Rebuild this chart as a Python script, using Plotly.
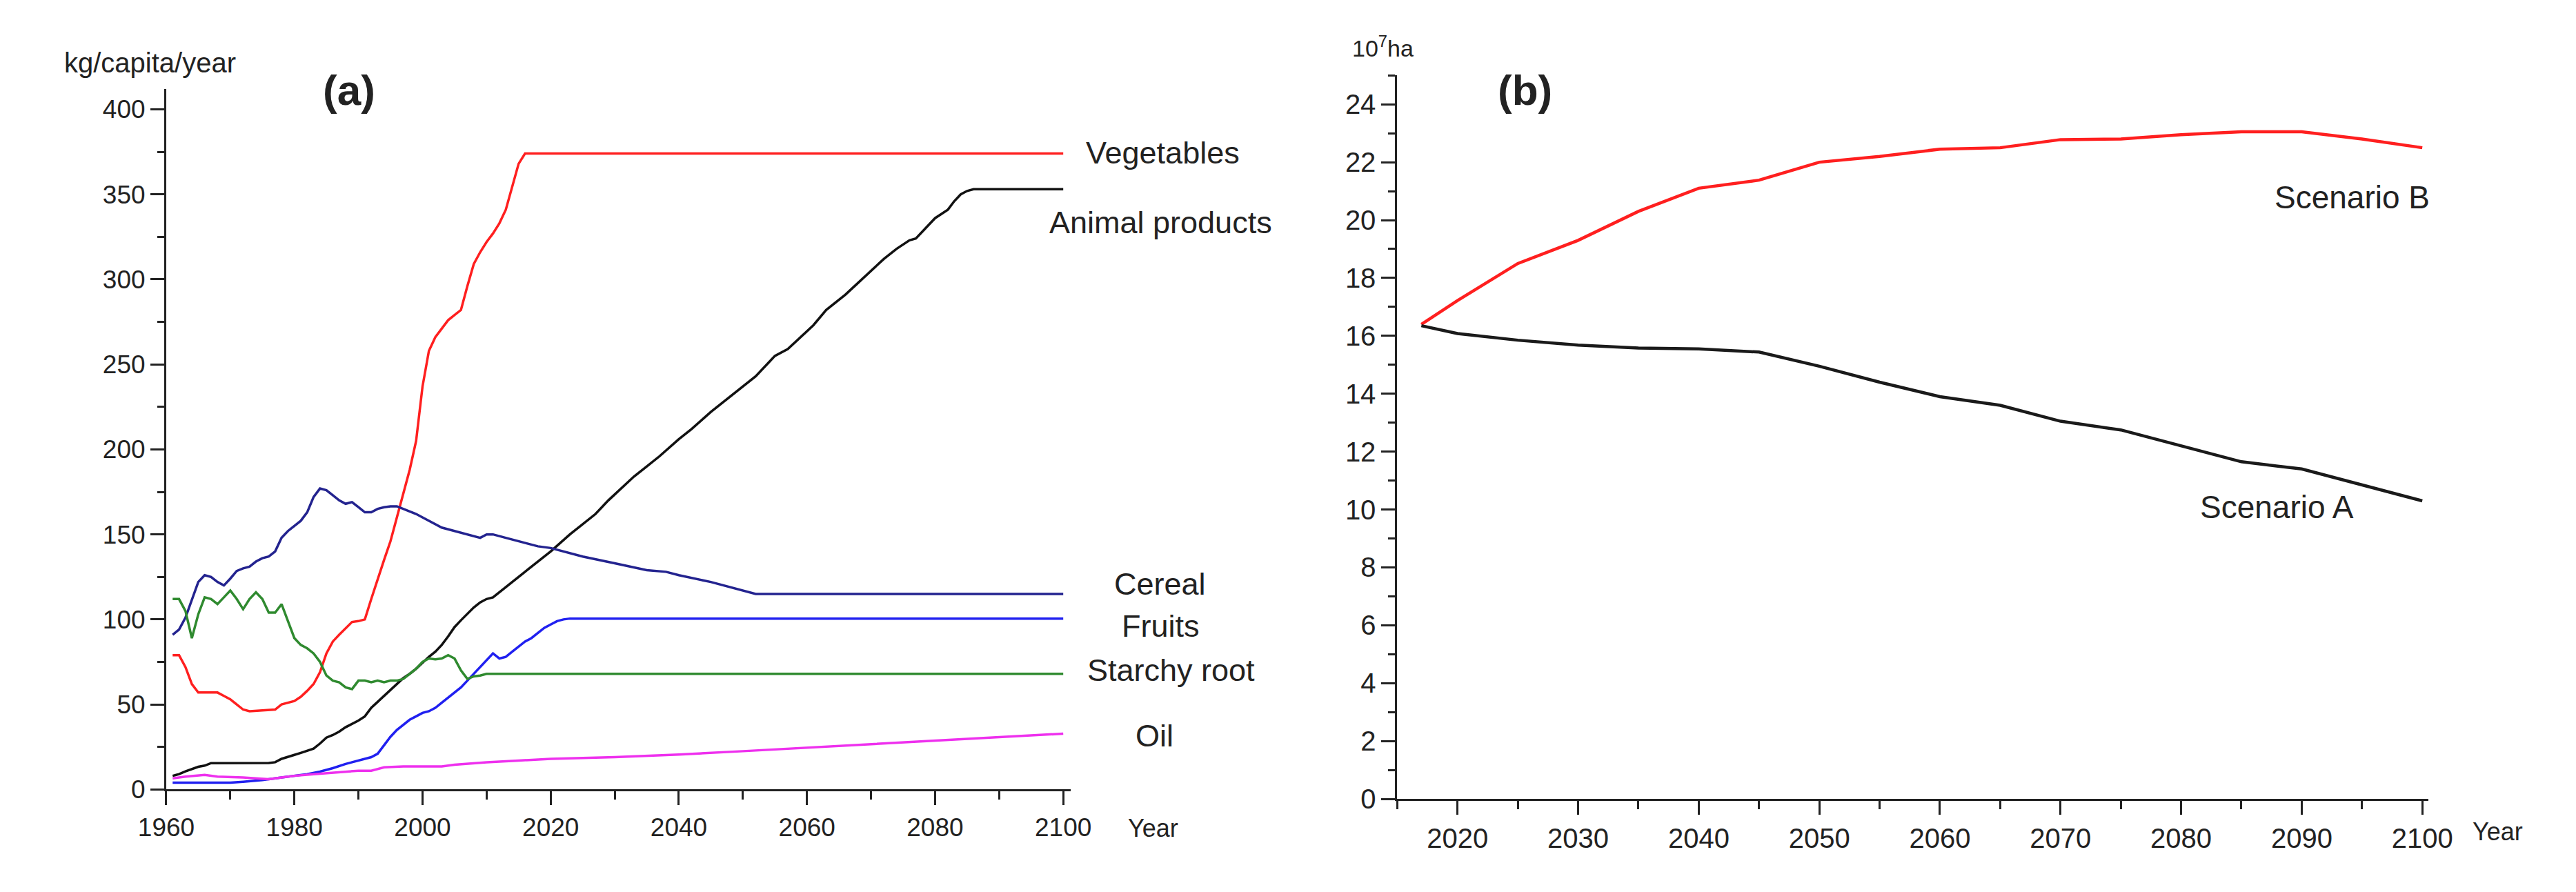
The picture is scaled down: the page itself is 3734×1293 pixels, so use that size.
import plotly.graph_objects as go

W, H = 3734, 1293

# ---------------- Panel (a) data: kg/capita/year ----------------
veg_years = [1961, 1962, 1963, 1964, 1965, 1966, 1968, 1969, 1970, 1971, 1972, 1973, 1975, 1977,
             1978, 1980, 1981, 1982, 1983, 1984, 1985, 1986, 1987, 1988, 1989, 1990, 1991, 1992,
             1993, 1994, 1995, 1996, 1997, 1998, 1999, 2000, 2001, 2002, 2003, 2004, 2005, 2006,
             2007, 2008, 2009, 2010, 2011, 2012, 2013, 2014, 2015, 2016, 2100]
veg_vals = [79, 79, 72, 62, 57, 57, 57, 55, 53, 50, 47, 46, 46.5, 47,
            50, 52, 54.5, 58, 62, 69, 80, 87, 91, 95, 98.5, 99, 100, 112,
            124, 135, 146, 160, 173, 188, 205, 237, 258, 266, 271, 276, 279, 282,
            296, 309, 316, 322, 327, 333, 341, 355, 368, 374, 374]

ani_years = [1961, 1962, 1963, 1964, 1965, 1966, 1967, 1976, 1977, 1978, 1979, 1980, 1981, 1982,
             1983, 1984, 1985, 1986, 1987, 1988, 1989, 1990, 1991, 1992, 1993, 1994, 1995, 1996,
             1997, 1998, 1999, 2000, 2001, 2002, 2003, 2004, 2005, 2006, 2007, 2008, 2009, 2010,
             2011, 2014, 2017, 2020, 2023, 2025, 2027, 2029, 2031, 2033, 2035, 2037, 2040, 2042,
             2045, 2048, 2050, 2052, 2054, 2055, 2057, 2059, 2061, 2063, 2066, 2068, 2070, 2072,
             2074, 2076, 2077, 2078, 2080, 2082, 2083, 2084, 2085, 2086, 2100]
ani_vals = [8, 9, 10.6, 12, 13.3, 14, 15.5, 15.6, 16, 18, 19, 20.3, 21.5, 22.6,
            24, 27, 30.5, 32, 34, 36.6, 38.5, 40.5, 43, 48, 51.5, 55, 58.5, 62,
            65.5, 68, 71, 74.5, 78, 81, 85, 90, 95.5, 99.5, 103.5, 107, 110, 112,
            113, 122, 131, 140, 150, 156, 162, 170, 177, 184, 190, 196, 206, 212,
            222, 231, 237, 243, 251, 255, 259, 266, 273, 282, 291, 298, 305, 312,
            318, 323, 324, 328, 336, 341, 346, 350, 352, 353, 353]

cer_years = [1961, 1962, 1963, 1964, 1965, 1966, 1967, 1968, 1969, 1970, 1971, 1972, 1973, 1974,
             1975, 1976, 1977, 1978, 1979, 1980, 1981, 1982, 1983, 1984, 1985, 1986, 1987, 1988,
             1989, 1990, 1991, 1992, 1993, 1994, 1995, 1996, 1997, 1998, 1999, 2000, 2001, 2002,
             2003, 2004, 2005, 2006, 2007, 2008, 2009, 2010, 2011, 2013, 2015, 2018, 2020, 2023,
             2025, 2030, 2035, 2038, 2040, 2045, 2050, 2052, 2100]
cer_vals = [91, 94, 101, 112, 122, 126, 125, 122, 120, 124, 128.5, 130, 131, 134,
            136, 137, 140, 148, 152, 155, 158, 163, 172, 177, 176, 173, 170, 168,
            169, 166, 163, 163, 165, 166, 166.5, 166.5, 165, 163.5, 162, 160, 158, 156,
            154, 153, 152, 151, 150, 149, 148, 150, 150, 148, 146, 143, 142, 139,
            137, 133, 129, 128, 126, 122, 117, 115, 115]

fru_years = [1961, 1965, 1970, 1972, 1975, 1978, 1980, 1982, 1984, 1986, 1988, 1990, 1992, 1993,
             1994, 1995, 1996, 1997, 1998, 1999, 2000, 2001, 2002, 2003, 2004, 2005, 2006, 2007,
             2008, 2009, 2010, 2011, 2012, 2013, 2014, 2015, 2016, 2017, 2018, 2019, 2020, 2021,
             2022, 2023, 2100]
fru_vals = [4, 4, 4, 4.5, 5.5, 7, 8, 9, 10.5, 12.5, 15, 17, 19, 21,
            26, 31, 35, 38, 41, 43, 45, 46, 48, 51, 54, 57, 60, 64,
            68, 72, 76, 80, 77, 78, 81, 84, 87, 89, 92, 95, 97, 99,
            100, 100.5, 100.5]

sta_years = [1961, 1962, 1963, 1964, 1965, 1966, 1967, 1968, 1969, 1970, 1971, 1972, 1973, 1974,
             1975, 1976, 1977, 1978, 1979, 1980, 1981, 1982, 1983, 1984, 1985, 1986, 1987, 1988,
             1989, 1990, 1991, 1992, 1993, 1994, 1995, 1996, 1997, 1998, 1999, 2000, 2001, 2002,
             2003, 2004, 2005, 2006, 2007, 2008, 2009, 2010, 2100]
sta_vals = [112, 112, 105, 89, 103, 113, 112, 109, 113, 117, 112, 106, 112, 116,
            112, 104, 104, 109, 99, 89, 85, 83, 80, 75, 67, 64, 63, 60,
            59, 64, 64, 63, 64, 63, 64, 64, 65, 68, 71, 75, 77, 76.5, 77, 79, 77, 70, 65, 66.5,
            67, 68, 68]

oil_years = [1961, 1963, 1966, 1968, 1972, 1976, 1978, 1980, 1983, 1986, 1990, 1992, 1994, 1997,
             2000, 2003, 2005, 2010, 2015, 2020, 2030, 2040, 2050, 2060, 2070, 2080, 2090, 2100]
oil_vals = [6.5, 7.5, 8.5, 7.5, 7, 6, 7, 8, 9, 10, 11, 11, 13, 13.5,
            13.5, 13.5, 14.5, 16, 17, 18, 19, 20.5, 22.5, 24.5, 26.5, 28.7, 30.8, 32.8]

# ---------------- Panel (b) data: 10^7 ha ----------------
scen_years = [2017, 2020, 2025, 2030, 2035, 2040, 2045, 2050, 2055, 2060, 2065, 2070, 2075,
              2080, 2085, 2090, 2095, 2100]
scen_b = [16.4, 17.22, 18.5, 19.3, 20.3, 21.1, 21.38, 22.0, 22.2, 22.45, 22.5, 22.78, 22.8,
          22.95, 23.05, 23.05, 22.8, 22.5]
scen_a = [16.35, 16.08, 15.85, 15.68, 15.58, 15.55, 15.44, 14.95, 14.4, 13.9, 13.6, 13.05, 12.75,
          12.2, 11.65, 11.4, 10.85, 10.3]

# ---------------- helpers (layout only) ----------------
def px(x):
    return x / W

def py(y):
    return 1 - y / H

FONT = "Liberation Sans, Arial, sans-serif"
AX = "#222222"

fig = go.Figure()

left_series = [
    (veg_years, veg_vals, "#ff1f1f", "Vegetables"),
    (ani_years, ani_vals, "#111111", "Animal products"),
    (cer_years, cer_vals, "#23238f", "Cereal"),
    (fru_years, fru_vals, "#2020f0", "Fruits"),
    (sta_years, sta_vals, "#2f8a2f", "Starchy root"),
    (oil_years, oil_vals, "#ee30ee", "Oil"),
]
for xs, ys, col, name in left_series:
    fig.add_trace(go.Scatter(x=xs, y=ys, mode="lines", name=name,
                             line=dict(color=col, width=3.5), xaxis="x", yaxis="y"))

fig.add_trace(go.Scatter(x=scen_years, y=scen_b, mode="lines", name="Scenario B",
                         line=dict(color="#ff1f1f", width=4.5), xaxis="x2", yaxis="y2"))
fig.add_trace(go.Scatter(x=scen_years, y=scen_a, mode="lines", name="Scenario A",
                         line=dict(color="#1a1a1a", width=4.5), xaxis="x2", yaxis="y2"))

axis_common = dict(showline=True, linewidth=3, linecolor=AX, showgrid=False, zeroline=False,
                   ticks="outside", ticklen=20, tickwidth=3, tickcolor=AX,
                   tickfont=dict(family=FONT, size=37, color=AX))

fig.update_layout(
    width=W, height=H, margin=dict(l=0, r=0, t=0, b=0),
    paper_bgcolor="white", plot_bgcolor="white", showlegend=False,
    xaxis=dict(axis_common, domain=[px(196), px(1535)], range=[1960, 2101.2],
               tick0=1960, dtick=20, anchor="y",
               minor=dict(dtick=10, ticklen=12, tickwidth=3, tickcolor=AX, ticks="outside")),
    yaxis=dict(axis_common, domain=[py(1156), py(123)], range=[0, 412],
               tick0=0, dtick=50, anchor="x",
               minor=dict(dtick=25, ticklen=10, tickwidth=3, tickcolor=AX, ticks="outside")),
    xaxis2=dict(axis_common, domain=[px(2018), px(3544)], range=[2015, 2100.5],
                tick0=2020, dtick=10, anchor="y2",
                tickfont=dict(family=FONT, size=40, color=AX),
                minor=dict(tick0=2015, dtick=5, ticklen=12, tickwidth=3, tickcolor=AX, ticks="outside")),
    yaxis2=dict(axis_common, domain=[py(1170), py(103)], range=[0, 25],
                tick0=0, dtick=2, anchor="x2",
                tickfont=dict(family=FONT, size=40, color=AX),
                minor=dict(dtick=1, ticklen=10, tickwidth=3, tickcolor=AX, ticks="outside")),
)

def label(text, x, y, size, xanchor="left", bold=False):
    if bold:
        text = "<b>" + text + "</b>"
    fig.add_annotation(text=text, x=px(x), y=py(y), xref="paper", yref="paper",
                       xanchor=xanchor, yanchor="middle", showarrow=False,
                       font=dict(family=FONT, size=size, color=AX))

# panel (a) texts
label("kg/capita/year", 43, 84, 40)
label("(a)", 467, 125, 62, xanchor="center", bold=True)
label("Vegetables", 1555, 217, 45)
label("Animal products", 1501, 320, 45)
label("Cereal", 1597, 853, 45)
label("Fruits", 1608, 915, 45)
label("Starchy root", 1557, 980, 45)
label("Oil", 1629, 1077, 45)
label("Year", 1617, 1213, 36)

# panel (b) texts
label("10<sup>7</sup>ha", 1949, 61, 34)
label("(b)", 2207, 125, 62, xanchor="center", bold=True)
label("Scenario B", 3431, 283, 46, xanchor="center")
label("Scenario A", 3320, 740, 46, xanchor="center")
label("Year", 3607, 1218, 36)

fig.write_html("out.html")
